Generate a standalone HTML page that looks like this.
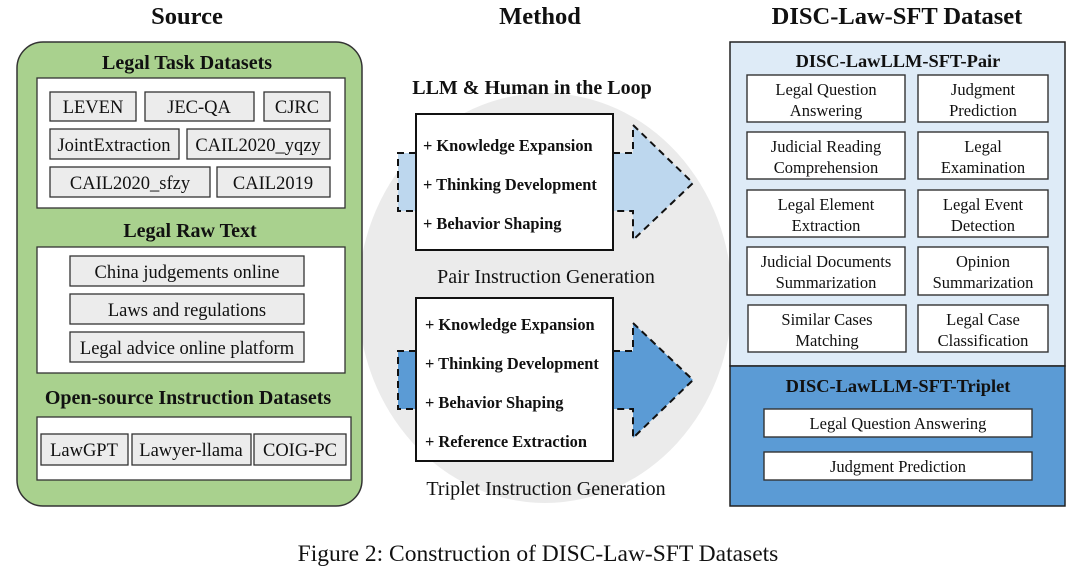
<!DOCTYPE html>
<html><head><meta charset="utf-8"><style>
html,body{margin:0;padding:0;background:#fff;width:1080px;height:582px;overflow:hidden}
svg{display:block}
text{font-family:"Liberation Serif",serif;fill:#111}
.b{font-weight:bold}
</style></head><body>
<svg width="1080" height="582" viewBox="0 0 1080 582" xmlns="http://www.w3.org/2000/svg">
<g font-size="24.5" text-anchor="middle">
<text x="187" y="24" class="b">Source</text>
<text x="540" y="24" class="b">Method</text>
<text x="897" y="24" class="b">DISC-Law-SFT Dataset</text>
</g>
<ellipse cx="545" cy="298" rx="187" ry="205" fill="#ebebeb"/>
<rect x="17" y="42" width="345" height="464" rx="26" fill="#a9d18e" stroke="#333" stroke-width="1.5"/>
<text x="187" y="69" font-size="20" text-anchor="middle" class="b">Legal Task Datasets</text>
<rect x="37" y="78" width="308" height="130" fill="#fff" stroke="#333" stroke-width="1.3"/>
<rect x="37" y="247" width="308" height="126" fill="#fff" stroke="#333" stroke-width="1.3"/>
<rect x="37" y="417" width="314" height="63" fill="#fff" stroke="#333" stroke-width="1.3"/>
<g fill="#ececec" stroke="#333" stroke-width="1.3">
<rect x="50" y="92" width="86" height="29"/><rect x="145" y="92" width="109" height="29"/><rect x="264" y="92" width="66" height="29"/>
<rect x="50" y="129" width="129" height="30"/><rect x="187" y="129" width="143" height="30"/>
<rect x="50" y="167" width="160" height="30"/><rect x="217" y="167" width="113" height="30"/>
<rect x="70" y="256" width="234" height="30"/><rect x="70" y="294" width="234" height="30"/><rect x="70" y="332" width="234" height="30"/>
<rect x="41" y="434" width="87" height="31"/><rect x="132" y="434" width="119" height="31"/><rect x="254" y="434" width="92" height="31"/>
</g>
<g font-size="18.5" text-anchor="middle">
<text x="93" y="113">LEVEN</text><text x="199" y="113">JEC-QA</text><text x="297" y="113">CJRC</text>
<text x="114" y="151">JointExtraction</text><text x="258" y="151">CAIL2020_yqzy</text>
<text x="130" y="189">CAIL2020_sfzy</text><text x="273" y="189">CAIL2019</text>
<text x="187" y="278">China judgements online</text>
<text x="187" y="316">Laws and regulations</text>
<text x="187" y="354">Legal advice online platform</text>
<text x="84" y="456">LawGPT</text><text x="191" y="456">Lawyer-llama</text><text x="300" y="456">COIG-PC</text>
</g>
<text x="190" y="237" font-size="20" text-anchor="middle" class="b">Legal Raw Text</text>
<text x="188" y="404" font-size="20" text-anchor="middle" class="b">Open-source Instruction Datasets</text>
<text x="532" y="94" font-size="20" text-anchor="middle" class="b">LLM &amp; Human in the Loop</text>
<g stroke="#111" stroke-width="2" stroke-dasharray="7,5">
<path d="M416,153 H398 V211 H416" fill="#bdd7ee"/>
<path d="M613,153 H633 V125 L693,183 L633,240 V211 H613" fill="#bdd7ee"/>
<path d="M416,351 H398 V409 H416" fill="#5b9bd5"/>
<path d="M613,351 H633 V323 L693,380 L633,438 V409 H613" fill="#5b9bd5"/>
</g>
<rect x="416" y="114" width="197" height="136" fill="#fff" stroke="#111" stroke-width="2"/>
<rect x="416" y="298" width="197" height="163" fill="#fff" stroke="#111" stroke-width="2"/>
<g font-size="16.4">
<text x="423" y="151" class="b">+ Knowledge Expansion</text>
<text x="423" y="190" class="b">+ Thinking Development</text>
<text x="423" y="229" class="b">+ Behavior Shaping</text>
<text x="425" y="330" class="b">+ Knowledge Expansion</text>
<text x="425" y="369" class="b">+ Thinking Development</text>
<text x="425" y="408" class="b">+ Behavior Shaping</text>
<text x="425" y="447" class="b">+ Reference Extraction</text>
</g>
<g font-size="20" text-anchor="middle">
<text x="546" y="283">Pair Instruction Generation</text>
<text x="546" y="495">Triplet Instruction Generation</text>
</g>
<rect x="730" y="42" width="335" height="324" fill="#deebf7" stroke="#222" stroke-width="1.5"/>
<rect x="730" y="366" width="335" height="140" fill="#5b9bd5" stroke="#222" stroke-width="1.5"/>
<text x="898" y="67" font-size="18.4" text-anchor="middle" class="b">DISC-LawLLM-SFT-Pair</text>
<text x="898" y="392" font-size="18.4" text-anchor="middle" class="b">DISC-LawLLM-SFT-Triplet</text>
<g fill="#fff" stroke="#333" stroke-width="1.4">
<rect x="747" y="75" width="158" height="47"/><rect x="918" y="75" width="130" height="47"/>
<rect x="747" y="132" width="158" height="47"/><rect x="918" y="132" width="130" height="47"/>
<rect x="747" y="190" width="158" height="47"/><rect x="918" y="190" width="130" height="47"/>
<rect x="747" y="247" width="158" height="48"/><rect x="918" y="247" width="130" height="48"/>
<rect x="748" y="305" width="158" height="47"/><rect x="918" y="305" width="130" height="47"/>
<rect x="764" y="409" width="268" height="28"/><rect x="764" y="452" width="268" height="28"/>
</g>
<g font-size="16.5" text-anchor="middle">
<text x="826" y="95">Legal Question</text><text x="826" y="116">Answering</text>
<text x="983" y="95">Judgment</text><text x="983" y="116">Prediction</text>
<text x="826" y="152">Judicial Reading</text><text x="826" y="173">Comprehension</text>
<text x="983" y="152">Legal</text><text x="983" y="173">Examination</text>
<text x="826" y="210">Legal Element</text><text x="826" y="231">Extraction</text>
<text x="983" y="210">Legal Event</text><text x="983" y="231">Detection</text>
<text x="826" y="267">Judicial Documents</text><text x="826" y="288">Summarization</text>
<text x="983" y="267">Opinion</text><text x="983" y="288">Summarization</text>
<text x="827" y="325">Similar Cases</text><text x="827" y="346">Matching</text>
<text x="983" y="325">Legal Case</text><text x="983" y="346">Classification</text>
<text x="898" y="429">Legal Question Answering</text>
<text x="898" y="472">Judgment Prediction</text>
</g>
<text x="538" y="561" font-size="23.5" text-anchor="middle">Figure 2: Construction of DISC-Law-SFT Datasets</text>
</svg>
</body></html>
